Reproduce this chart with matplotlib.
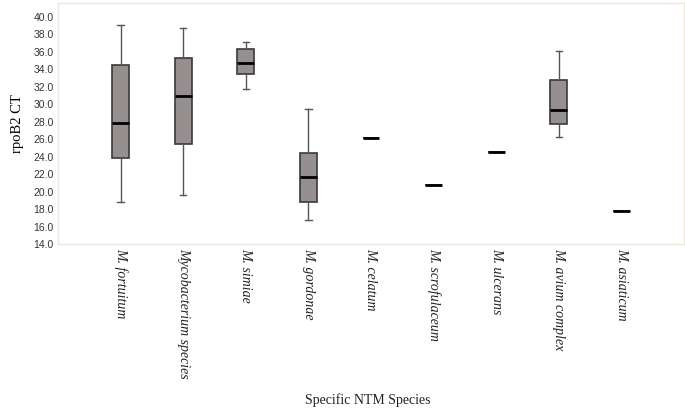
import matplotlib
matplotlib.use("Agg")
import matplotlib.pyplot as plt
import numpy as np

# species and box statistics
species = ["M. fortuitum", "Mycobacterium species", "M. simiae", "M. gordonae",
           "M. celatum", "M. scrofulaceum", "M. ulcerans", "M. avium complex",
           "M. asiaticum"]
wlo = [18.8, 19.6, 31.8, 16.7, 26.1, 20.7, 24.5, 26.3, 17.8]
q1 = [23.8, 25.4, 33.5, 18.8, 26.1, 20.7, 24.5, 27.8, 17.8]
med = [27.9, 30.9, 34.7, 21.7, 26.1, 20.7, 24.5, 29.4, 17.8]
q3 = [34.5, 35.3, 36.3, 24.4, 26.1, 20.7, 24.5, 32.8, 17.8]
whi = [39.1, 38.7, 37.1, 29.5, 26.1, 20.7, 24.5, 36.1, 17.8]

stats = []
for i in range(len(species)):
    stats.append({"label": species[i], "whislo": wlo[i], "q1": q1[i],
                  "med": med[i], "q3": q3[i], "whishi": whi[i], "fliers": []})

fig = plt.figure(figsize=(6.85, 4.17), dpi=100)
ax = fig.add_axes([58/685, 1-244/417, 626/685, 241/417])

ax.bxp(stats, positions=np.arange(len(species)), widths=0.27, patch_artist=True,
       showfliers=False, capwidths=0.1,
       boxprops=dict(facecolor="#958f8f", edgecolor="#3a3a3a", linewidth=1.2),
       medianprops=dict(color="black", linewidth=2.0),
       whiskerprops=dict(color="#555555", linewidth=1.0),
       capprops=dict(color="#555555", linewidth=1.0))

ax.set_xlim(-1, 9)
ax.set_ylim(14, 41.6)
ax.set_yticks(np.arange(14, 41, 2))
ax.set_yticklabels(["%.1f" % v for v in np.arange(14, 41, 2)],
                   fontfamily="Liberation Sans", fontsize=7.5, color="#333333")
ax.set_xticks(np.arange(len(species)))
ax.set_xticklabels(species, rotation=270, fontfamily="Liberation Serif",
                   fontstyle="italic", fontsize=10, color="#222222", va="top")
ax.tick_params(axis="both", length=0, pad=3)

for s in ax.spines.values():
    s.set_color("#ece8dc")
    s.set_linewidth(1.0)

ax.set_ylabel("rpoB2 CT", fontfamily="Liberation Serif", fontsize=10.5, labelpad=7)
fig.text(368/685, 1-400/417, "Specific NTM Species", ha="center", va="center",
         fontfamily="Liberation Serif", fontsize=10, color="#222222")

fig.savefig("out.png", dpi=100)
